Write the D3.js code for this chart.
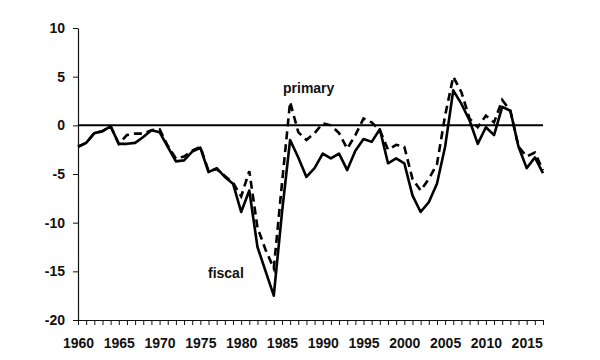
<!DOCTYPE html>
<html>
<head>
<meta charset="utf-8">
<script src="https://cdn.jsdelivr.net/npm/d3@7"></script>
<style>
  html, body { margin: 0; padding: 0; background: #fff; }
  svg { display: block; }
  text { font-family: "Liberation Sans", Arial, sans-serif; font-weight: bold; font-size: 14px; fill: #111; }
</style>
</head>
<body>
<svg id="chart" width="600" height="360"></svg>
<script>
const years = d3.range(1960, 2018);
const fiscal = [
  -2.2, -1.8, -0.8, -0.6, -0.1, -1.9, -1.9, -1.8, -1.2, -0.5,
  -0.7, -2.2, -3.7, -3.6, -2.7, -2.3, -4.8, -4.4, -5.3, -6.0,
  -8.9, -6.7, -12.5, -15.0, -17.5, -9.0, -1.5, -3.3, -5.3, -4.4,
  -2.9, -3.4, -2.9, -4.6, -2.6, -1.4, -1.7, -0.4, -3.9, -3.4,
  -3.9, -7.2, -8.9, -7.9, -6.0, -2.2, 3.6, 2.2, 0.5, -1.9,
  -0.2, -1.0, 1.9, 1.5, -2.2, -4.4, -3.3, -4.9
];
const primary = [
  -2.2, -1.8, -0.8, -0.6, -0.1, -1.9, -1.0, -0.85, -0.85, -0.5,
  -0.4, -2.1, -3.4, -3.2, -2.6, -2.2, -4.7, -4.5, -5.2, -5.9,
  -7.3, -4.7, -10.5, -12.8, -14.7, -6.0, 2.4, -0.7, -1.5, -0.8,
  0.2, 0.0, -0.8, -2.4, -1.0, 0.7, 0.3, -0.5, -2.5, -2.0,
  -2.2, -5.5, -6.7, -5.5, -4.0, 1.0, 5.0, 3.4, 0.7, -0.2,
  1.0, 0.3, 2.6, 1.5, -2.2, -3.2, -2.8, -4.6
];
const yTicks = [-20, -15, -10, -5, 0, 5, 10];
const seriesLabels = ["fiscal", "primary"];

const svg = d3.select("#chart");
const x = d3.scaleLinear().domain([1960, 2017]).range([78, 543]);
const y = d3.scaleLinear().domain([-20, 10]).range([320, 28]);

// Y axis
const yAxis = svg.append("g")
  .attr("transform", `translate(${x(1960)},0)`)
  .call(d3.axisLeft(y).tickValues(yTicks).tickSize(5).tickSizeOuter(0).tickPadding(8).tickFormat(d => String(d)));
yAxis.select(".domain").attr("stroke", "#111").attr("stroke-width", 1.2);
yAxis.selectAll(".tick line").attr("stroke", "#111");
yAxis.selectAll("text").attr("font-size", 14).attr("fill", "#111").attr("font-family", null);

// X axis
const xAxis = svg.append("g")
  .attr("transform", `translate(0,${y(-20)})`)
  .call(d3.axisBottom(x).tickValues(years).tickSize(5).tickSizeOuter(0).tickPadding(13)
    .tickFormat(d => d % 5 === 0 ? String(d) : ""));
xAxis.select(".domain").attr("stroke", "#111").attr("stroke-width", 1.2);
xAxis.selectAll(".tick line").attr("stroke", "#111");
xAxis.selectAll("text").attr("font-size", 14).attr("fill", "#111").attr("font-family", null);

// Zero line
svg.append("line")
  .attr("x1", x(1960)).attr("x2", x(2017))
  .attr("y1", y(0)).attr("y2", y(0))
  .attr("stroke", "#000").attr("stroke-width", 2);

const line = d3.line().x((d, i) => x(years[i])).y(d => y(d));

svg.append("path")
  .datum(primary)
  .attr("d", line)
  .attr("fill", "none")
  .attr("stroke", "#000")
  .attr("stroke-width", 2.6)
  .attr("stroke-dasharray", "8,5");

svg.append("path")
  .datum(fiscal)
  .attr("d", line)
  .attr("fill", "none")
  .attr("stroke", "#000")
  .attr("stroke-width", 2.6)
  .attr("stroke-linejoin", "round");

// Series labels
svg.append("text").attr("x", 208).attr("y", 278).text(seriesLabels[0]);
svg.append("text").attr("x", 283).attr("y", 93).text(seriesLabels[1]);
</script>
</body>
</html>
